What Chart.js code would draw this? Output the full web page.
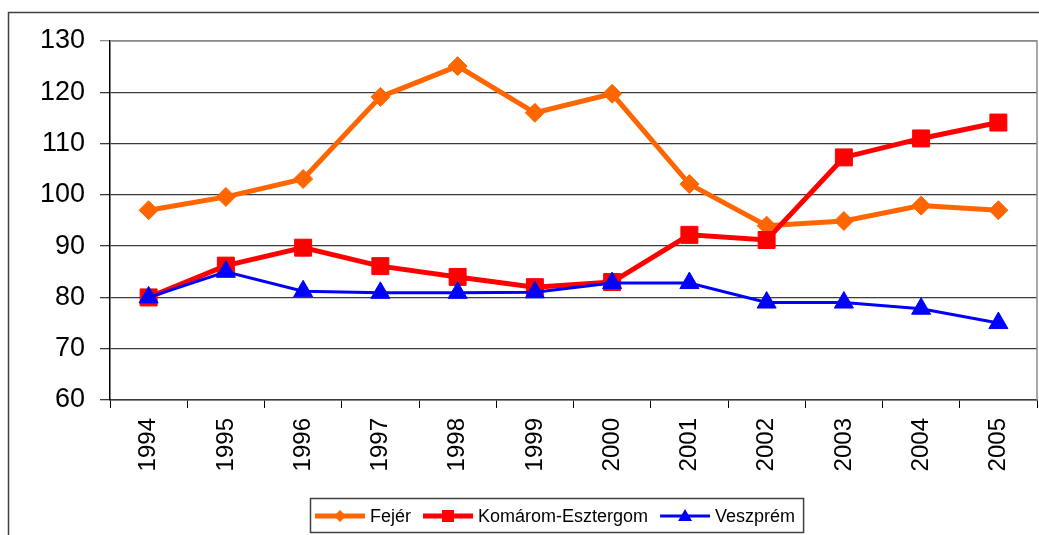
<!DOCTYPE html>
<html>
<head>
<meta charset="utf-8">
<script src="https://cdn.jsdelivr.net/npm/chart.js@4.4.0/dist/chart.umd.min.js"></script>
<style>
  html, body { margin: 0; padding: 0; background: #fff; }
  #wrap { width: 1039px; height: 535px; position: relative; }
</style>
</head>
<body>
<div id="wrap"><canvas id="grafico"></canvas></div>
<script>
// Datos
const years = ['1994', '1995', '1996', '1997', '1998', '1999', '2000', '2001', '2002', '2003', '2004', '2005'];
const fejer = [97, 99.6, 103.1, 119.1, 125.1, 116, 119.7, 102.1, 94, 94.9, 97.9, 97];
const komarom = [80, 86.2, 89.7, 86.1, 84, 82, 83, 92.2, 91.2, 107.3, 111, 114.1];
const veszprem = [80, 85, 81.2, 80.9, 80.9, 81, 82.8, 82.8, 79, 79, 77.8, 75];
const seriesNames = ['Fejér', 'Komárom-Esztergom', 'Veszprém'];
const yMin = 60;
const yMax = 130;
const yStep = 10;

const colores = {
  naranja: '#ff6600',
  rojo: '#ff0000',
  azul: '#0000ff',
  rejilla: '#3c3c3c',
  borde: '#8c8c8c',
  marco: '#404040'
};
const fuente = '"Liberation Sans", Arial, sans-serif';

// Marco exterior y borde del área de trazado
const marcoExcel = {
  id: 'marcoExcel',
  beforeDraw(chart) {
    const ctx = chart.ctx;
    ctx.save();
    ctx.strokeStyle = colores.marco;
    ctx.lineWidth = 1.5;
    ctx.beginPath();
    ctx.moveTo(8.5, 600);
    ctx.lineTo(8.5, 12.5);
    ctx.lineTo(1100, 12.5);
    ctx.stroke();
    ctx.restore();
  },
  beforeDatasetsDraw(chart) {
    const a = chart.chartArea;
    const ctx = chart.ctx;
    ctx.save();
    ctx.strokeStyle = colores.borde;
    ctx.lineWidth = 1.5;
    ctx.beginPath();
    ctx.moveTo(a.left, a.top);
    ctx.lineTo(a.right, a.top);
    ctx.lineTo(a.right, a.bottom);
    ctx.stroke();
    ctx.restore();
  }
};

// Leyenda al estilo Excel (línea con marcador)
const leyendaExcel = {
  id: 'leyendaExcel',
  afterDraw(chart) {
    const ctx = chart.ctx;
    ctx.save();
    ctx.font = '18px ' + fuente;
    ctx.textBaseline = 'middle';
    const y = 516;
    const inicio = 310;
    let x = inicio + 5;
    chart.data.datasets.forEach((ds) => {
      const cx = x + 25;
      ctx.strokeStyle = ds.borderColor;
      ctx.lineWidth = ds.borderWidth;
      ctx.beginPath();
      ctx.moveTo(x, y);
      ctx.lineTo(x + 50, y);
      ctx.stroke();
      ctx.fillStyle = ds.borderColor;
      ctx.beginPath();
      if (ds.pointStyle === 'rect') {
        ctx.rect(cx - 6, y - 6, 12, 12);
      } else if (ds.pointStyle === 'rectRot') {
        ctx.moveTo(cx - 6, y); ctx.lineTo(cx, y - 6);
        ctx.lineTo(cx + 6, y); ctx.lineTo(cx, y + 6);
      } else {
        ctx.moveTo(cx, y - 7); ctx.lineTo(cx + 7, y + 5);
        ctx.lineTo(cx - 7, y + 5);
      }
      ctx.closePath();
      ctx.fill();
      ctx.fillStyle = '#000';
      ctx.fillText(ds.label, x + 55, y + 1);
      x += 55 + ctx.measureText(ds.label).width + 12;
    });
    ctx.strokeStyle = colores.marco;
    ctx.lineWidth = 1.5;
    ctx.strokeRect(inicio + 0.5, 498.5, x - inicio - 4, 34);
    ctx.restore();
  }
};

const ctx = document.getElementById('grafico').getContext('2d');
window.grafico = new Chart(ctx, {
  type: 'line',
  data: {
    labels: years,
    datasets: [
      {
        label: seriesNames[0],
        data: fejer,
        borderColor: colores.naranja,
        backgroundColor: colores.naranja,
        borderWidth: 5,
        pointStyle: 'rectRot',
        pointRadius: 9.5,
        pointBorderWidth: 1,
        order: 2
      },
      {
        label: seriesNames[1],
        data: komarom,
        borderColor: colores.rojo,
        backgroundColor: colores.rojo,
        borderWidth: 5,
        pointStyle: 'rect',
        pointRadius: 12,
        pointBorderWidth: 1,
        order: 1
      },
      {
        label: seriesNames[2],
        data: veszprem,
        borderColor: colores.azul,
        backgroundColor: colores.azul,
        borderWidth: 3,
        pointStyle: 'triangle',
        pointRadius: 11,
        pointBorderWidth: 1,
        order: 0
      }
    ]
  },
  options: {
    responsive: true,
    maintainAspectRatio: false,
    animation: false,
    layout: { autoPadding: false, padding: { top: 41, right: 2, left: 0, bottom: 0 } },
    elements: { line: { tension: 0 } },
    plugins: {
      legend: { display: false },
      tooltip: { enabled: false }
    },
    scales: {
      x: {
        offset: true,
        grid: {
          offset: true,
          drawOnChartArea: false,
          tickLength: 8,
          color: '#000'
        },
        border: { color: colores.rejilla, width: 1.5 },
        ticks: {
          autoSkip: false,
          minRotation: 90,
          maxRotation: 90,
          padding: 10,
          color: '#000',
          font: { family: fuente, size: 24 }
        },
        afterFit(scale) { scale.height = 135; }
      },
      y: {
        min: yMin,
        max: yMax,
        grid: {
          tickLength: 10,
          color: (c) => c.tick && c.tick.value === yMax ? colores.borde : colores.rejilla,
          lineWidth: 1.3
        },
        border: { color: '#000', width: 1.5 },
        ticks: {
          stepSize: yStep,
          padding: 15,
          color: '#000',
          font: { family: fuente, size: 27 }
        },
        afterFit(scale) { scale.width = 110; }
      }
    }
  },
  plugins: [marcoExcel, leyendaExcel]
});
</script>
</body>
</html>
